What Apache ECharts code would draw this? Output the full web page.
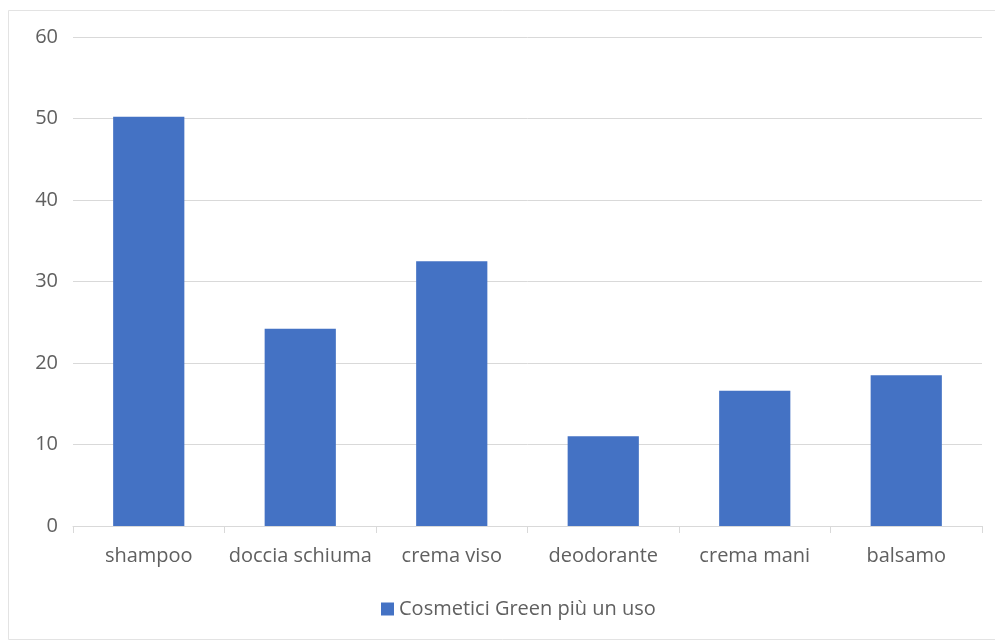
<!DOCTYPE html>
<html><head><meta charset="utf-8">
<script src="https://cdn.jsdelivr.net/npm/echarts@6/dist/echarts.min.js"></script>
<style>html,body{margin:0;padding:0;background:#fff}#c{width:995px;height:643px}</style>
</head><body><div id="c"></div>
<script>
var categories = ["shampoo","doccia schiuma","crema viso","deodorante","crema mani","balsamo"];
var values = [50.2, 24.2, 32.5, 11.0, 16.6, 18.5];
var seriesName = "Cosmetici Green più un uso";
var chart = echarts.init(document.getElementById('c'));
var font = "'Open Sans', sans-serif";
chart.setOption({
  animation:false,
  backgroundColor:'#fff',
  graphic:[{type:'rect',shape:{x:8.5,y:10.5,width:1000,height:629},style:{fill:'none',stroke:'#e3e3e3',lineWidth:1},silent:true}],
  grid:{left:73,right:13,top:37,bottom:117,containLabel:false},
  legend:{bottom:19,left:376,itemWidth:13,itemHeight:13,itemGap:6,icon:'rect',
    textStyle:{fontFamily:font,fontSize:20,color:'#606060'},data:[seriesName]},
  xAxis:{type:'category',data:categories,
    axisLine:{lineStyle:{color:'#d9d9d9',width:1}},
    axisTick:{show:true,length:7,alignWithLabel:false,lineStyle:{color:'#d9d9d9'}},
    axisLabel:{fontFamily:font,fontSize:20,color:'#606060',margin:20,interval:0}},
  yAxis:{type:'value',min:0,max:60,interval:10,
    axisLine:{show:false},axisTick:{show:false},
    splitLine:{lineStyle:{color:'#d9d9d9',width:1}},
    axisLabel:{fontFamily:font,fontSize:20,color:'#606060',margin:15}},
  series:[{name:seriesName,type:'bar',data:values,barWidth:'47%',itemStyle:{color:'#4472c4'}}]
});
</script></body></html>
